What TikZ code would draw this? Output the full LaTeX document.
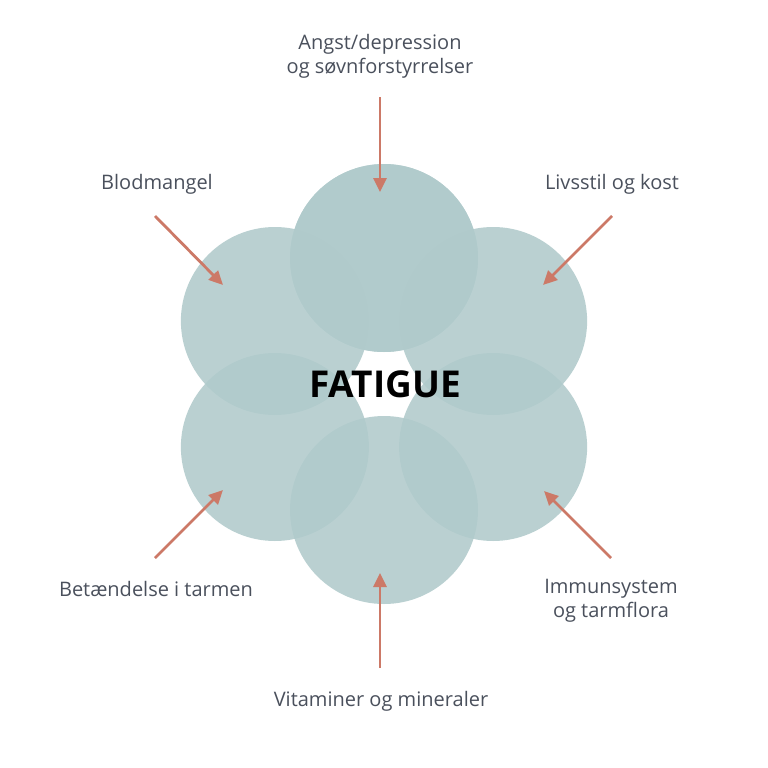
\documentclass[tikz,border=0pt]{standalone}
\usepackage{fontspec}
\setmainfont{Open Sans}
\usetikzlibrary{arrows.meta}

\definecolor{sirkelfarge}{RGB}{176,202,203}
\definecolor{pilfarge}{RGB}{204,121,103}
\definecolor{tekstfarge}{RGB}{74,80,92}

\tikzset{
	sirkel/.style={fill=sirkelfarge, fill opacity=0.88},
	pil/.style={draw=pilfarge, line width=2.8pt, -{Triangle[width=13pt,length=14pt]}},
	etikett/.style={text=tekstfarge, font=\fontsize{20}{24}\selectfont, align=center},
}

\begin{document}
\begin{tikzpicture}[x=1pt, y=-1pt]
	\useasboundingbox (0,0) rectangle (768,768);

	% seks sirkler rundt midten
	\foreach \a in {90,150,...,450}
		\fill[sirkel] (384,384) ++(\a:126pt) circle (94pt);

	\node[font=\fontsize{37}{42}\bfseries, text=black] (fatigue) at (385,384) {FATIGUE};

	\node[etikett] (angst) at (380,56) {Angst/depression\\og søvnforstyrrelser};
	\node[etikett] (blod) at (157,184) {Blodmangel};
	\node[etikett] (livsstil) at (612,184) {Livsstil og kost};
	\node[etikett] (betaend) at (156,589) {Betændelse i tarmen};
	\node[etikett] (immun) at (611,601) {Immunsystem\\og tarmflora};
	\node[etikett] (vitamin) at (381,701) {Vitaminer og mineraler};

	\coordinate (a1) at (380,97);   \coordinate (a2) at (380,192);
	\coordinate (b1) at (155,216);  \coordinate (b2) at (223,285);
	\coordinate (l1) at (612,216);  \coordinate (l2) at (543,285);
	\coordinate (t1) at (155,558);  \coordinate (t2) at (223,490);
	\coordinate (i1) at (611,558);  \coordinate (i2) at (544,491);
	\coordinate (v1) at (380,668);  \coordinate (v2) at (380,573);

	\draw[pil] (a1) -- (a2);
	\draw[pil] (b1) -- (b2);
	\draw[pil] (l1) -- (l2);
	\draw[pil] (t1) -- (t2);
	\draw[pil] (i1) -- (i2);
	\draw[pil] (v1) -- (v2);
\end{tikzpicture}
\end{document}
